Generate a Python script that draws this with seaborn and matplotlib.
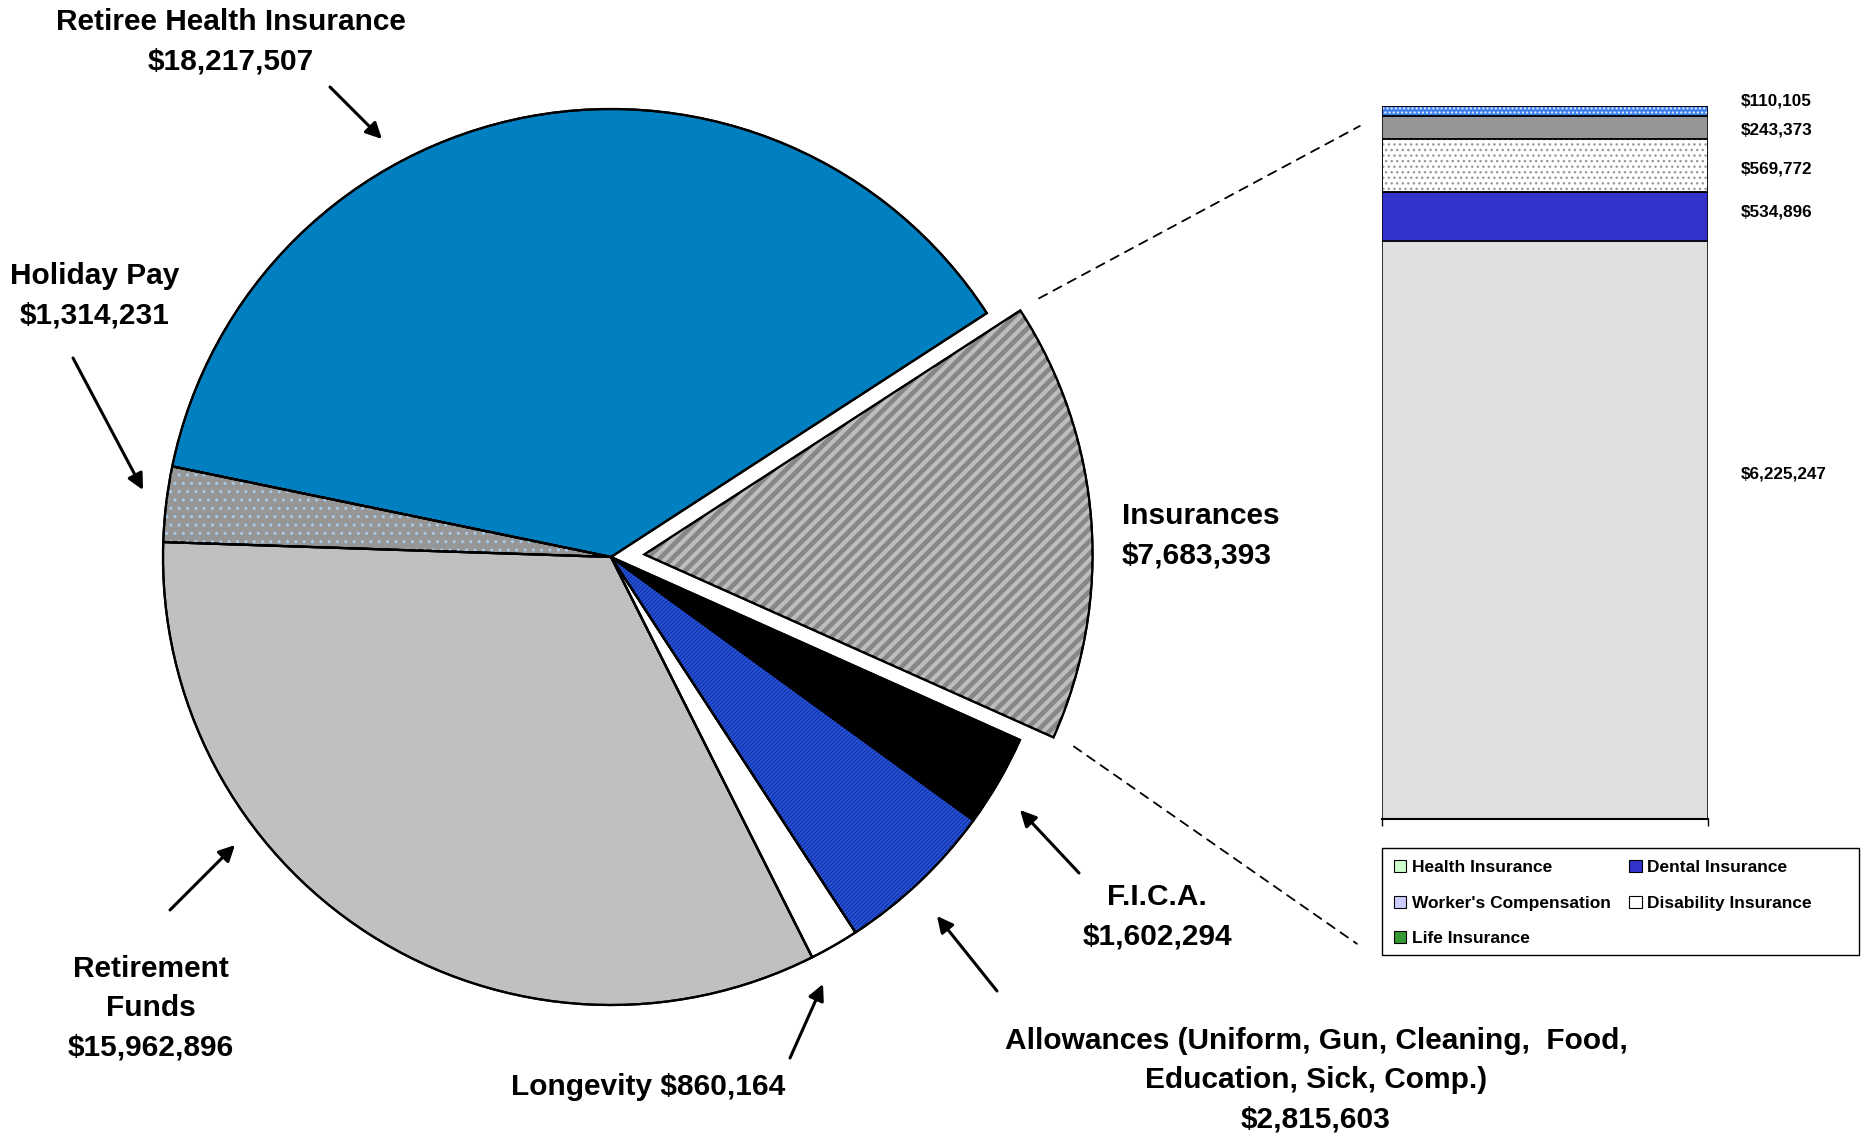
import numpy as np
import pandas as pd
import matplotlib
matplotlib.use("Agg")
import matplotlib.pyplot as plt
from matplotlib.patches import Wedge, Rectangle, Patch, ConnectionPatch, FancyArrowPatch
from matplotlib.collections import LineCollection
import matplotlib.transforms as mtransforms
import seaborn as sns

# ---- Expense categories (pie, counter-clockwise from the exploded slice) ----
categories = ["Insurances", "Retiree Health Insurance", "Holiday Pay",
              "Retirement Funds", "Longevity", "Allowances", "F.I.C.A."]
amounts = [7683393, 18217507, 1314231, 15962896, 860164, 2815603, 1602294]
pie_colors = ["#878787", "#0080C0", "#969696", "#C0C0C0", "#FFFFFF", "#2A5BE8", "#000000"]
explode = [0.075, 0, 0, 0, 0, 0, 0]

# ---- Insurance breakdown (stacked bar, bottom to top) ----
ins_types = ["Health Insurance", "Dental Insurance", "Worker's Compensation",
             "Disability Insurance", "Life Insurance"]
ins_amounts = [6225247, 534896, 569772, 243373, 110105]
ins_colors = ["#E0E0E0", "#3333CC", "#FFFFFF", "#969696", "#3D80EE"]
ins_hatch = [None, None, "...", None, "...."]
ins_hatch_colors = [None, None, "#9A9A9A", None, "#E8F0FF"]
ins_label_nudge_px = [56, 4, -4, -2, 10]

legend_order = ["Health Insurance", "Worker's Compensation", "Life Insurance",
                "Dental Insurance", "Disability Insurance"]
legend_colors = {"Health Insurance": "#CCFFCC", "Dental Insurance": "#3333CC",
                 "Worker's Compensation": "#CCCCFF", "Disability Insurance": "#FFFFFF",
                 "Life Insurance": "#339933"}

sns.set_theme(style="white")
plt.rcParams["font.family"] = ["Liberation Sans", "DejaVu Sans"]
plt.rcParams["font.weight"] = "bold"
plt.rcParams["text.color"] = "black"

W, H = 1866, 1138
fig = plt.figure(figsize=(W / 100, H / 100), dpi=100)
fig.patch.set_facecolor("white")


def fx(x):
    return x / W


def fy(y):
    return 1 - y / H


def money(v):
    return f"${v:,}"


# ---------------- Pie ----------------
R_PX = 448
CX, CY = 611, 557
half = 1.2 * R_PX
ax_pie = fig.add_axes([fx(CX - half), fy(CY + half), 2 * half / W, 2 * half / H])
wedges, _ = ax_pie.pie(amounts, colors=pie_colors, explode=explode, startangle=-24.1,
                       counterclock=True,
                       wedgeprops=dict(edgecolor="black", linewidth=1.6))
ax_pie.set_xlim(-1.2, 1.2)
ax_pie.set_ylim(-1.2, 1.2)
ax_pie.set_aspect("equal")
ax_pie.axis("off")


def stripes(wedge, spacing, lw, color):
    """Upward diagonal stripes clipped to a wedge."""
    offs = np.arange(-3, 3, spacing)
    segs = [[(-2, -2 + c), (2, 2 + c)] for c in offs]
    lc = LineCollection(segs, colors=color, linewidths=lw, zorder=wedge.get_zorder() + 0.1)
    ax_pie.add_collection(lc)
    lc.set_clip_path(wedge)


stripes(wedges[0], 12.5 / R_PX, 3.0, "#BDBDBD")      # Insurances
stripes(wedges[5], 4.0 / R_PX, 1.1, "#1634A6")       # Allowances

# dotted fill for Holiday Pay
w = wedges[2]
ax_pie.add_patch(Wedge(w.center, w.r, w.theta1, w.theta2, facecolor="none",
                       edgecolor="#A8CCF0", linewidth=0, hatch="..", zorder=w.get_zorder() + 0.1))

# outlines on top of the patterns
for w in wedges:
    ax_pie.add_patch(Wedge(w.center, w.r, w.theta1, w.theta2, fill=False,
                           edgecolor="black", linewidth=1.6, zorder=5))

# ---------------- Stacked insurance bar ----------------
BX0, BX1, BY0, BY1 = 1382, 1708, 106, 819
ax_bar = fig.add_axes([fx(BX0), fy(BY1), (BX1 - BX0) / W, (BY1 - BY0) / H])
df_ins = pd.DataFrame({"bar": 0, "type": ins_types, "amount": ins_amounts})
# seaborn stacks the first hue level on top, so feed the order top-down
sns.histplot(data=df_ins, x="bar", weights="amount", hue="type", hue_order=ins_types[::-1],
             multiple="stack", discrete=True, shrink=1.0,
             palette=dict(zip(ins_types, ins_colors)), edgecolor="black",
             linewidth=1.1, alpha=1, legend=False, ax=ax_bar)
total_ins = sum(ins_amounts)
ax_bar.set_xlim(-0.5, 0.5)
ax_bar.set_ylim(0, total_ins)
ax_bar.set_xlabel("")
ax_bar.set_ylabel("")
ax_bar.set_yticks([])
ax_bar.set_xticks([-0.5, 0.5])
ax_bar.set_xticklabels(["", ""])
ax_bar.tick_params(axis="x", bottom=True, length=5, width=1.0, color="black", direction="out")
for s in ["left", "right", "top"]:
    ax_bar.spines[s].set_visible(False)
ax_bar.spines["bottom"].set_color("black")
ax_bar.spines["bottom"].set_linewidth(1.5)
ax_bar.set_facecolor("none")

# match each drawn segment to its value
rects = [p for p in ax_bar.patches if isinstance(p, Rectangle) and p.get_height() > 0]
label_tf = mtransforms.blended_transform_factory(ax_bar.transAxes, ax_bar.transData)
for val, hatch, hcol, nudge in zip(ins_amounts, ins_hatch, ins_hatch_colors, ins_label_nudge_px):
    p = min(rects, key=lambda r: abs(r.get_height() - val))
    if hatch:
        ax_bar.add_patch(Rectangle((p.get_x(), p.get_y()), p.get_width(), p.get_height(),
                                   facecolor="none", edgecolor=hcol, linewidth=0,
                                   hatch=hatch, zorder=p.get_zorder() + 0.1))
        ax_bar.add_patch(Rectangle((p.get_x(), p.get_y()), p.get_width(), p.get_height(),
                                   fill=False, edgecolor="black", linewidth=1.1,
                                   zorder=p.get_zorder() + 0.2))
    ax_bar.annotate(money(val), xy=(1.101, p.get_y() + p.get_height() / 2),
                    xycoords=label_tf, xytext=(0, nudge * 0.72), textcoords="offset points",
                    ha="left", va="center", fontsize=12.3, fontweight="bold",
                    color="black", annotation_clip=False)

# dashed connectors from the exploded slice to the breakdown
w = wedges[0]
for ang, bar_pt in [(w.theta2, (-0.068, 0.972)), (w.theta1, (-0.077, -0.175))]:
    a = np.deg2rad(ang)
    pA = (w.center[0] + 1.05 * np.cos(a), w.center[1] + 1.05 * np.sin(a))
    con = ConnectionPatch(xyA=pA, coordsA=ax_pie.transData, xyB=bar_pt,
                          coordsB=ax_bar.transAxes, linestyle=(0, (5, 4)),
                          linewidth=1.3, color="black")
    fig.add_artist(con)

# legend (frame drawn separately so it spans the full box)
handles = [Patch(facecolor=legend_colors[n], edgecolor="black", linewidth=0.8, label=n)
           for n in legend_order]
leg = fig.legend(handles=handles, loc="upper left",
                 bbox_to_anchor=(fx(1382), fy(848)), ncol=2, frameon=False,
                 prop=dict(size=12.5, weight="bold"), handlelength=0.7, handleheight=0.7,
                 handletextpad=0.3, labelspacing=1.17, columnspacing=1.1,
                 borderpad=0.7, borderaxespad=0)
for t in leg.get_texts():
    t.set_color("black")
fig.add_artist(Rectangle((fx(1382), fy(955)), (1859 - 1382) / W, (955 - 848) / H,
                         transform=fig.transFigure, fill=False, edgecolor="black",
                         linewidth=1.0))

# ---------------- Slice labels ----------------
FS = 21.5
lab = dict(fontsize=FS, fontweight="bold", linespacing=1.52, va="center", color="black")
fig.text(fx(231), fy(41.5), f"Retiree Health Insurance\n{money(amounts[1])}", ha="center", **lab)
fig.text(fx(95), fy(296), f"Holiday Pay\n{money(amounts[2])}", ha="center", **lab)
fig.text(fx(151), fy(1008), f"Retirement\nFunds\n{money(amounts[3])}", ha="center", **lab)
fig.text(fx(648), fy(1087), f"Longevity {money(amounts[4])}", ha="center", **lab)
fig.text(fx(1157), fy(917), f"F.I.C.A.\n{money(amounts[6])}", ha="center", **lab)
fig.text(fx(1316), fy(1080),
         f"Allowances (Uniform, Gun, Cleaning,  Food,\nEducation, Sick, Comp.)\n{money(amounts[5])}",
         ha="center", multialignment="center", **lab)
fig.text(fx(1122), fy(536), f"Insurances\n{money(amounts[0])}", ha="left", **lab)

# arrows pointing at the slices
arrows = [((330, 87), (382, 139)), ((73, 358), (143, 490)), ((170, 910), (235, 845)),
          ((790, 1058), (823, 984)), ((1079, 873), (1020, 810)), ((997, 991), (937, 916))]
for (tx, ty), (hx, hy) in arrows:
    fig.add_artist(FancyArrowPatch(
        (fx(tx), fy(ty)), (fx(hx), fy(hy)), transform=fig.transFigure,
        arrowstyle="-|>", mutation_scale=24, color="black", linewidth=2.2,
        shrinkA=0, shrinkB=0))

fig.savefig("out.png", dpi=100, facecolor="white")
